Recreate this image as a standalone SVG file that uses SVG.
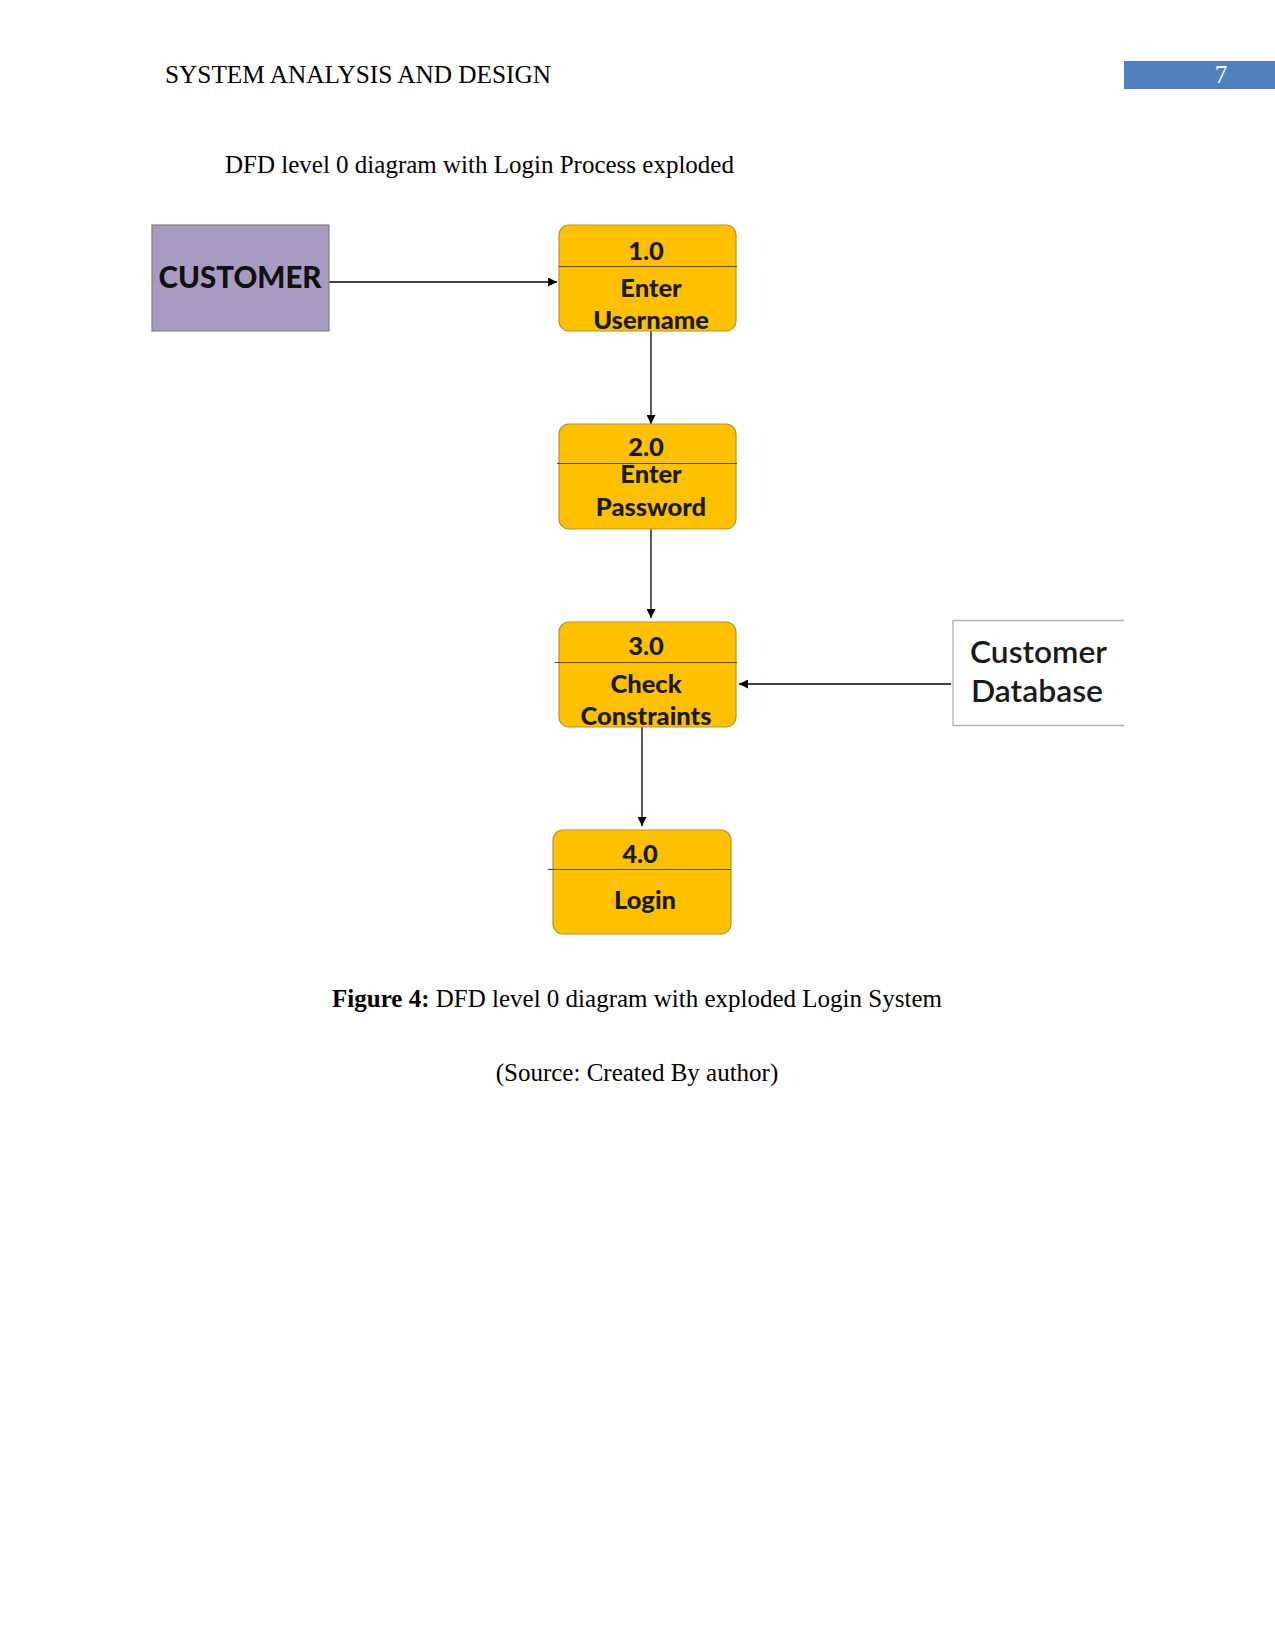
<svg xmlns="http://www.w3.org/2000/svg" width="1275" height="1651" viewBox="0 0 1275 1651">
<style>
.page{font-family:"Liberation Serif",serif;fill:#000;font-size:25px}
.proc{fill:#FFC000;stroke:#B8912A;stroke-width:1.2}
.div{stroke:#5a4a20;stroke-width:1.2}
.pt{font-family:Lato,"Liberation Sans",sans-serif;font-weight:900;font-size:25.5px;fill:#1a1a1a;text-anchor:middle}
.conn{stroke:#000;stroke-width:1.3;fill:none}
</style>
<defs>
<marker id="ah" viewBox="0 0 10 10" refX="10" refY="5" markerWidth="10" markerHeight="9" markerUnits="userSpaceOnUse" orient="auto">
<path d="M0,0 L10,5 L0,10 z" fill="#000"/>
</marker>
</defs>
<rect width="1275" height="1651" fill="#fff"/>
<g id="header">
<text class="page" x="165" y="83" textLength="386" lengthAdjust="spacingAndGlyphs">SYSTEM ANALYSIS AND DESIGN</text>
<rect x="1124" y="61" width="151" height="28" fill="#4F81BD"/>
<text class="page" x="1221" y="83" style="fill:#fff" text-anchor="middle">7</text>
<text class="page" x="225" y="173">DFD level 0 diagram with Login Process exploded</text>
</g>
<g id="connectors">
<line class="conn" x1="329" y1="282" x2="557" y2="282" marker-end="url(#ah)"/>
<line class="conn" x1="651" y1="331" x2="651" y2="424" marker-end="url(#ah)"/>
<line class="conn" x1="651" y1="529" x2="651" y2="618" marker-end="url(#ah)"/>
<line class="conn" x1="951" y1="684" x2="739" y2="684" marker-end="url(#ah)"/>
<line class="conn" x1="642" y1="727" x2="642" y2="826" marker-end="url(#ah)"/>
</g>
<g id="customer">
<rect x="152" y="225" width="177" height="106" fill="#A89BC2" stroke="#7f7f7f" stroke-width="1.2"/>
<text x="240" y="288" font-family="Lato,'Liberation Sans',sans-serif" font-weight="900" font-size="29.5" fill="#111" text-anchor="middle">CUSTOMER</text>
</g>
<g id="p1">
<rect class="proc" x="559" y="225" width="177" height="106" rx="10"/>
<line class="div" x1="559" y1="266.5" x2="737" y2="266.5"/>
<text class="pt" x="646" y="260">1.0</text>
<text class="pt" x="651" y="297">Enter</text>
<text class="pt" x="651" y="329">Username</text>
</g>
<g id="p2">
<rect class="proc" x="559" y="424" width="177" height="105" rx="10"/>
<line class="div" x1="557" y1="463.5" x2="737" y2="463.5"/>
<text class="pt" x="646" y="456">2.0</text>
<text class="pt" x="651" y="483">Enter</text>
<text class="pt" x="651" y="516">Password</text>
</g>
<g id="p3">
<rect class="proc" x="559" y="622" width="177" height="105" rx="10"/>
<line class="div" x1="555" y1="662.5" x2="737" y2="662.5"/>
<text class="pt" x="646" y="655">3.0</text>
<text class="pt" x="646" y="693">Check</text>
<text class="pt" x="646" y="725">Constraints</text>
</g>
<g id="p4">
<rect class="proc" x="553" y="830" width="178" height="104" rx="10"/>
<line class="div" x1="548" y1="869.5" x2="731" y2="869.5"/>
<text class="pt" x="640" y="863">4.0</text>
<text class="pt" x="645" y="909">Login</text>
</g>
<g id="database">
<path d="M1124,620.5 H953 V725.5 H1124" fill="#fff" stroke="#b0b0b0" stroke-width="1.3"/>
<text x="970" y="663" font-family="Lato,'Liberation Sans',sans-serif" font-weight="600" font-size="31" fill="#1a1a1a" textLength="137" lengthAdjust="spacingAndGlyphs">Customer</text>
<text x="971" y="702" font-family="Lato,'Liberation Sans',sans-serif" font-weight="600" font-size="31" fill="#1a1a1a" textLength="132" lengthAdjust="spacingAndGlyphs">Database</text>
</g>
<g id="caption">
<text class="page" x="637" y="1007" text-anchor="middle"><tspan font-weight="bold">Figure 4:</tspan> DFD level 0 diagram with exploded Login System</text>
<text class="page" x="637" y="1081" text-anchor="middle">(Source: Created By author)</text>
</g>
</svg>
